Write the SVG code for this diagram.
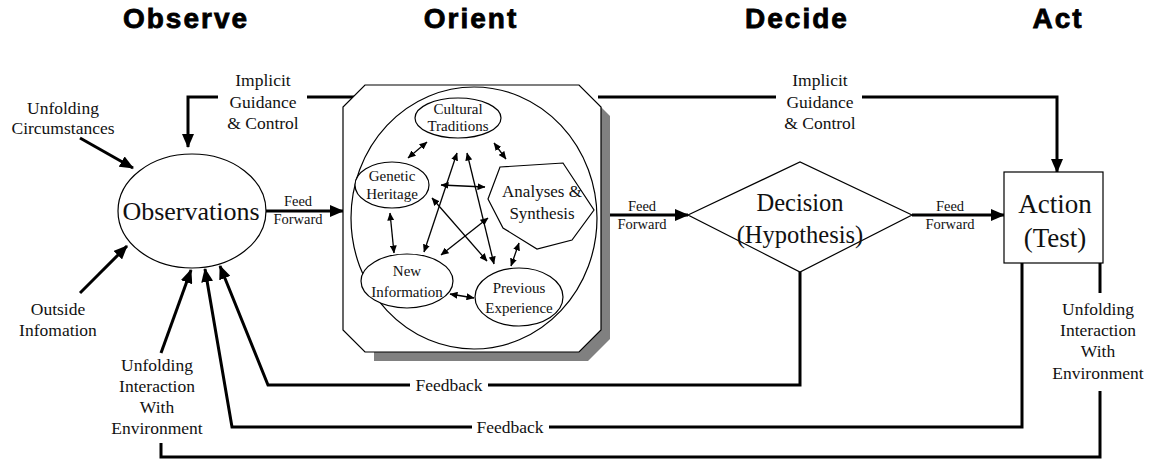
<svg xmlns="http://www.w3.org/2000/svg" width="1149" height="461" viewBox="0 0 1149 461">
<defs>
<marker id="ah" markerUnits="userSpaceOnUse" markerWidth="14" markerHeight="12" refX="13" refY="6" orient="auto"><path d="M0,0 L14,6 L0,12 z" fill="#000"/></marker>
<marker id="sh" markerUnits="userSpaceOnUse" markerWidth="8" markerHeight="7" refX="7.5" refY="3.5" orient="auto-start-reverse"><path d="M0,0 L8,3.5 L0,7 z" fill="#000"/></marker>
<style>
.hd{font-family:"Liberation Sans",Arial,sans-serif;font-weight:bold;font-size:28px;letter-spacing:2px;text-anchor:middle;fill:#000;stroke:#000;stroke-width:0.8}
.t{font-family:"Liberation Serif","Times New Roman",serif;text-anchor:middle;fill:#111}
.lb{font-size:17.5px}
.sm{font-size:14.5px}
.in{font-size:15px}
.an{font-size:17px}
.big{font-size:26px}
.th{fill:none;stroke:#000;stroke-width:3}
.tn{fill:#fff;stroke:#000;stroke-width:1.2}
.ia{fill:none;stroke:#000;stroke-width:1.3;marker-start:url(#sh);marker-end:url(#sh)}
</style>
</defs>
<rect width="1149" height="461" fill="#fff"/>
<g id="headings">
<text class="hd" x="186" y="28">Observe</text>
<text class="hd" x="471" y="28">Orient</text>
<text class="hd" x="797" y="28">Decide</text>
<text class="hd" x="1058" y="28">Act</text>
</g>
<g id="connectors">
<path class="th" d="M218,97 H188 V147" marker-end="url(#ah)"/>
<path class="th" d="M307,97 H360"/>
<path class="th" d="M598,97 H776"/>
<path class="th" d="M862,97 H1057 V172" marker-end="url(#ah)"/>
<path class="th" d="M80,138 L133,168" marker-end="url(#ah)"/>
<path class="th" d="M80,293 L127,246" marker-end="url(#ah)"/>
<path class="th" d="M161,353 L191,270" marker-end="url(#ah)"/>
<path class="th" d="M410,385 H268 L220,266" marker-end="url(#ah)"/>
<path class="th" d="M800,272 V385 H488"/>
<path class="th" d="M472,427 H232 L205,269" marker-end="url(#ah)"/>
<path class="th" d="M1022,263 V427 H549"/>
<path class="th" d="M1100,263 V293"/>
<path class="th" d="M1100,391 V457 H161 V443"/>
<path class="th" d="M266,211 H343" marker-end="url(#ah)"/>
<path class="th" d="M603,215 H688" marker-end="url(#ah)"/>
<path class="th" d="M912,215 H1004" marker-end="url(#ah)"/>
</g>
<g id="labels">
<text class="t lb" x="263" y="86">Implicit</text>
<text class="t lb" x="263" y="108">Guidance</text>
<text class="t lb" x="263" y="129">&amp; Control</text>
<text class="t lb" x="820" y="86">Implicit</text>
<text class="t lb" x="820" y="108">Guidance</text>
<text class="t lb" x="820" y="129">&amp; Control</text>
<text class="t lb" x="63" y="114">Unfolding</text>
<text class="t lb" x="63" y="134">Circumstances</text>
<text class="t lb" x="58" y="315">Outside</text>
<text class="t lb" x="58" y="336">Infomation</text>
<text class="t lb" x="157" y="371">Unfolding</text>
<text class="t lb" x="157" y="392">Interaction</text>
<text class="t lb" x="157" y="413">With</text>
<text class="t lb" x="157" y="434">Environment</text>
<text class="t lb" x="1098" y="315">Unfolding</text>
<text class="t lb" x="1098" y="336">Interaction</text>
<text class="t lb" x="1098" y="357">With</text>
<text class="t lb" x="1098" y="379">Environment</text>
<text class="t lb" x="449" y="391">Feedback</text>
<text class="t lb" x="510" y="433">Feedback</text>
<text class="t sm" x="298" y="206">Feed</text>
<text class="t sm" x="298" y="224">Forward</text>
<text class="t sm" x="642" y="211">Feed</text>
<text class="t sm" x="642" y="229">Forward</text>
<text class="t sm" x="950" y="211">Feed</text>
<text class="t sm" x="950" y="229">Forward</text>
</g>
<g id="observations">
<ellipse class="tn" cx="192" cy="211" rx="74" ry="57"/>
<text class="t big" x="191" y="220">Observations</text>
</g>
<g id="orient">
<polygon points="374,94 588,94 610,116 610,339 588,361 374,361" fill="#808080"/>
<polygon points="365,85 579,85 601,107 601,330 579,352 365,352 343,330 343,107" fill="#fff" stroke="#000" stroke-width="1.2"/>
<ellipse cx="474" cy="218" rx="123" ry="131" fill="none" stroke="#000" stroke-width="1.2"/>
<g id="cultural-traditions">
<ellipse class="tn" cx="458" cy="118" rx="43" ry="20"/>
<text class="t in" x="458" y="114">Cultural</text>
<text class="t in" x="458" y="131">Traditions</text>
</g>
<g id="genetic-heritage">
<ellipse class="tn" cx="392" cy="185" rx="37" ry="23"/>
<text class="t in" x="392" y="181">Genetic</text>
<text class="t in" x="392" y="199">Heritage</text>
</g>
<g id="analyses-synthesis">
<polygon class="tn" points="500,167 563,163 594,210 572,240 537,249 503,228 488,199"/>
<text class="t an" x="542" y="197">Analyses &amp;</text>
<text class="t an" x="542" y="219">Synthesis</text>
</g>
<g id="new-information">
<ellipse class="tn" cx="407" cy="281" rx="46" ry="27"/>
<text class="t in" x="407" y="276">New</text>
<text class="t in" x="407" y="297">Information</text>
</g>
<g id="previous-experience">
<ellipse class="tn" cx="519" cy="297" rx="44" ry="29"/>
<text class="t in" x="519" y="293">Previous</text>
<text class="t in" x="519" y="313">Experience</text>
</g>
<g id="inner-connectors">
<path class="ia" d="M427,142 L408,158"/>
<path class="ia" d="M494,143 L506,159"/>
<path class="ia" d="M441,185 L485,187"/>
<path class="ia" d="M390,213 L394,253"/>
<path class="ia" d="M457,153 L424,252"/>
<path class="ia" d="M467,153 L494,264"/>
<path class="ia" d="M432,198 L487,261"/>
<path class="ia" d="M488,218 L441,255"/>
<path class="ia" d="M519,243 L511,266"/>
<path class="ia" d="M450,294 L474,298"/>
</g>
</g>
<g id="decision">
<polygon class="tn" points="688,215 800,162 912,215 800,272"/>
<text class="t" x="800" y="211" font-size="24.5">Decision</text>
<text class="t" x="800" y="243" font-size="24.5">(Hypothesis)</text>
</g>
<g id="action">
<rect class="tn" x="1004" y="172" width="99" height="91"/>
<text class="t" x="1055" y="213" font-size="27">Action</text>
<text class="t" x="1055" y="247" font-size="27">(Test)</text>
</g>
</svg>
